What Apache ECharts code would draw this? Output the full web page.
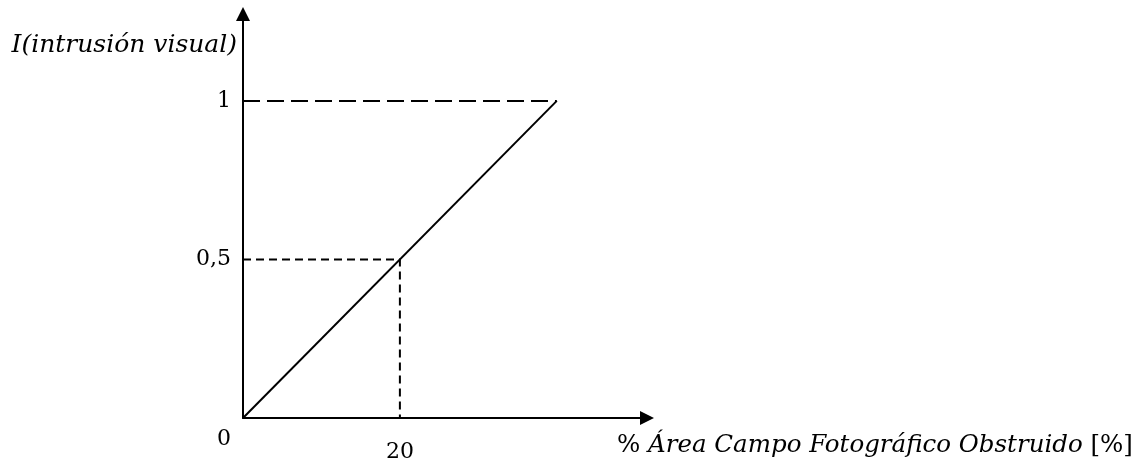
<!DOCTYPE html>
<html><head><meta charset="utf-8">
<script src="https://cdn.jsdelivr.net/npm/echarts@6/dist/echarts.min.js"></script>
<style>html,body{margin:0;padding:0;background:#fff}#c{width:1140px;height:469px}</style>
</head><body><div id="c"></div>
<script>
// Data
const mainLine = [[0, 0], [40, 1]];
const guideTop = [[0, 1], [40, 1]];
const guideHalf = [[0, 0.5], [20, 0.5], [20, 0]];
const xTickLabels = {20: '20'};
const yTickLabels = {0: '0', 0.5: '0,5', 1: '1'};
const xName = ['% ', 'Área Campo Fotográfico Obstruido', ' [%]'];
const yName = 'I(intrusión visual)';

const FONT = 'DejaVu Serif';
const chart = echarts.init(document.getElementById('c'), null, {renderer: 'canvas'});
chart.setOption({
  animation: false,
  backgroundColor: '#fff',
  grid: {left: 243, right: 493, top: 14, bottom: 51, containLabel: false},
  xAxis: {
    type: 'value', min: 0, max: 51.5, interval: 20,
    splitLine: {show: false},
    axisTick: {show: false},
    axisLine: {lineStyle: {color: '#000', width: 2}, symbol: ['none', 'triangle'], symbolSize: [14, 14]},
    axisLabel: {
      color: '#000', fontFamily: FONT, fontSize: 22, margin: 23,
      formatter: v => xTickLabels[v] || ''
    },
    name: '{a|' + xName[0] + '}{b|' + xName[1] + '}{a|' + xName[2] + '}',
    nameLocation: 'end', nameGap: -30,
    nameTextStyle: {
      align: 'left', verticalAlign: 'middle', padding: [56, 0, 0, 0],
      rich: {
        a: {fontFamily: FONT, fontSize: 24.5, color: '#000'},
        b: {fontFamily: FONT, fontSize: 24.5, fontStyle: 'italic', color: '#000'}
      }
    }
  },
  yAxis: {
    type: 'value', min: 0, max: 1.274, interval: 0.5,
    splitLine: {show: false},
    axisTick: {show: false},
    axisLine: {lineStyle: {color: '#000', width: 2}, symbol: ['none', 'triangle'], symbolSize: [14, 14]},
    axisLabel: {
      color: '#000', fontFamily: FONT, fontSize: 22, margin: 12,
      formatter: v => v === 0 ? '{o|' + yTickLabels[0] + '}' : (yTickLabels[v] || ''),
      rich: {o: {fontFamily: FONT, fontSize: 22, color: '#000', padding: [42, 0, 0, 0]}}
    },
    name: yName,
    nameLocation: 'end', nameGap: -44,
    nameTextStyle: {
      fontFamily: FONT, fontSize: 25, fontStyle: 'italic', color: '#000',
      align: 'right', verticalAlign: 'bottom', padding: [0, 6, 0, 0]
    }
  },
  series: [
    {type: 'line', data: mainLine, symbol: 'none', lineStyle: {color: '#000', width: 2}},
    {type: 'line', data: guideTop, symbol: 'none', lineStyle: {color: '#000', width: 2, type: [17, 7]}},
    {type: 'line', data: guideHalf, symbol: 'none', lineStyle: {color: '#000', width: 2, type: [8, 5]}}
  ]
});
</script></body></html>
